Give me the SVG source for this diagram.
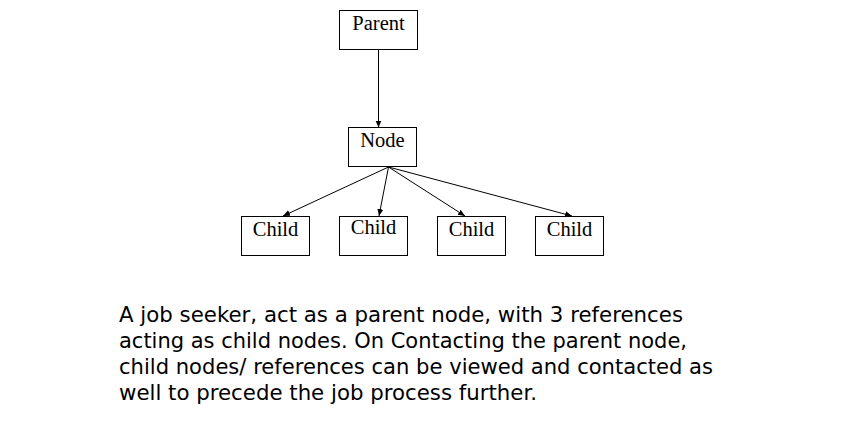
<svg xmlns="http://www.w3.org/2000/svg" width="842" height="446" viewBox="0 0 842 446">
<style>
.box{fill:#fff;stroke:#000;stroke-width:1}
.lbl{font-family:"Liberation Serif","Times New Roman",serif;font-size:20.5px;fill:#000;text-anchor:middle}
.edge{stroke:#000;stroke-width:1;fill:none;marker-end:url(#ah)}
.para{font-family:"DejaVu Sans",Verdana,sans-serif;font-size:21px;fill:#000}
</style>
<defs>
<marker id="ah" markerWidth="8" markerHeight="8" refX="7" refY="4" orient="auto" markerUnits="userSpaceOnUse">
<path d="M0,1 L7,4 L0,7 Z" fill="#000"/>
</marker>
</defs>
<rect width="842" height="446" fill="#fff"/>
<g id="parent"><rect class="box" x="339.5" y="10.5" width="78" height="39"/><text class="lbl" x="378.5" y="30">Parent</text></g>
<g id="node"><rect class="box" x="348.5" y="127.5" width="68" height="39"/><text class="lbl" x="382.5" y="147">Node</text></g>
<g id="child1"><rect class="box" x="241.5" y="216.5" width="68" height="39"/><text class="lbl" x="275.5" y="236">Child</text></g>
<g id="child2"><rect class="box" x="339.5" y="216.5" width="68" height="39"/><text class="lbl" x="373.5" y="234">Child</text></g>
<g id="child3"><rect class="box" x="437.5" y="216.5" width="68" height="39"/><text class="lbl" x="471.5" y="236">Child</text></g>
<g id="child4"><rect class="box" x="535.5" y="216.5" width="68" height="39"/><text class="lbl" x="569.5" y="236">Child</text></g>
<g id="connectors">
<line class="edge" x1="378.5" y1="49.5" x2="378.5" y2="127.5"/>
<line class="edge" x1="388.5" y1="167" x2="283" y2="216"/>
<line class="edge" x1="388.5" y1="167" x2="379" y2="216"/>
<line class="edge" x1="388.5" y1="167" x2="465" y2="216"/>
<line class="edge" x1="388.5" y1="167" x2="572" y2="216"/>
</g>
<g id="caption">
<text class="para" x="119" y="322" textLength="564" lengthAdjust="spacingAndGlyphs">A job seeker, act as a parent node, with 3 references</text>
<text class="para" x="119" y="348" textLength="568" lengthAdjust="spacingAndGlyphs">acting as child nodes. On Contacting the parent node,</text>
<text class="para" x="119" y="374" textLength="594" lengthAdjust="spacingAndGlyphs">child nodes/ references can be viewed and contacted as</text>
<text class="para" x="119" y="400" textLength="418" lengthAdjust="spacingAndGlyphs">well to precede the job process further.</text>
</g>
</svg>
